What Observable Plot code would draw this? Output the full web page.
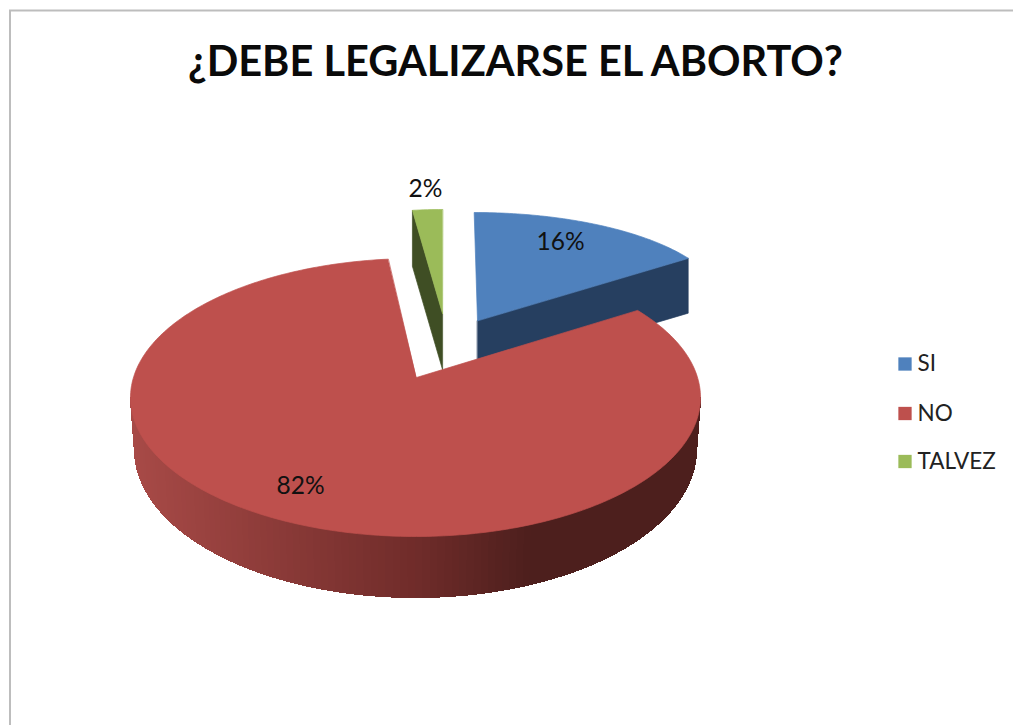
<!DOCTYPE html>
<html>
<head>
<meta charset="utf-8">
<script src="https://cdn.jsdelivr.net/npm/d3@7"></script>
<script src="https://cdn.jsdelivr.net/npm/@observablehq/plot@0.6"></script>
<style>
html,body{margin:0;padding:0;background:#fff;overflow:hidden}
svg{display:block}
</style>
</head>
<body>
<div id="chart"></div>
<script>
// Data
const titleText = "¿DEBE LEGALIZARSE EL ABORTO?";
const categories = ["SI", "NO", "TALVEZ"];
const shares = [16, 82, 2];
const topColors = ["#4f81bd", "#be504d", "#9bbb59"];
const edgeColors = ["#263f60", null, "#3f4e24"];

// Layout of the exploded 3D pie, in the SVG's pixel space
const W = 1013, H = 725;
const geometry = {
  SI:     {ax: 477, ay: 320, cx: 474, cy: 307, rx: 250, ry: 95, rayRy: 113, turn: -0.8, depth: 55, label: [560, 242]},
  NO:     {ax: 416, ay: 377, cx: 415, cy: 397, rx: 285, ry: 139, rayRy: 139, turn: 0.5, depth: 52, label: [300, 486],
           bottom: {cx: 415, cy: 449, rx: 281, ry: 148}},
  TALVEZ: {ax: 442, ay: 313, cx: 442, cy: 313, rx: 240, ry: 104, rayRy: 104, turn: 0, depth: 56, label: [425, 189]}
};
const legendLayout = {x: 904.5, textX: 917, y: [363.5, 413, 461]};

// Angular span of each slice, clockwise from twelve o'clock
const total = d3.sum(shares);
let running = 0;
const slices = categories.map((name, i) => {
  const start = running / total * 2 * Math.PI;
  running += shares[i];
  return {name, value: shares[i], start, end: running / total * 2 * Math.PI,
          top: topColors[i], edge: edgeColors[i], g: geometry[name]};
});

// Where a ray leaving the (perspective-shifted) apex at angle t meets the rim
function rim(g, angle) {
  const t = angle + g.turn * Math.PI / 180;
  const dx = g.rx * Math.sin(t), dy = -g.rayRy * Math.cos(t);
  const ox = (g.ax - g.cx) / g.rx, oy = (g.ay - g.cy) / g.ry;
  const ux = dx / g.rx, uy = dy / g.ry;
  const a = ux * ux + uy * uy, b = 2 * (ox * ux + oy * uy), c = ox * ox + oy * oy - 1;
  const k = (-b + Math.sqrt(b * b - 4 * a * c)) / (2 * a);
  return [g.ax + k * dx, g.ay + k * dy];
}

const faces = [], wallBands = [], bigTop = [];
let shapeId = 0;
function addShape(target, points, fill) {
  const z = shapeId++;
  for (const [x, y] of points) target.push({x, y, z, fill});
}
const topPolygon = s => {
  const steps = Math.max(6, Math.ceil((s.end - s.start) * 60));
  const arc = d3.range(steps + 1).map(i => rim(s.g, s.start + (s.end - s.start) * i / steps));
  return [[s.g.ax, s.g.ay], ...arc];
};

// Red rim colour runs from mid red on the left to near black on the right
const redSide = d3.scaleLinear().domain([130, 415, 530, 700])
  .range(["#a84a47", "#702c2a", "#4d1f1d", "#4d1f1d"]).clamp(true);

const [si, no, talvez] = slices;

// Radial faces of the two small slices (back to front)
for (const [s, t] of [[talvez, talvez.start], [si, si.end]]) {
  const g = s.g, [ex, ey] = rim(g, t);
  addShape(faces, [[g.ax, g.ay], [ex, ey], [ex, ey + g.depth], [g.ax, g.ay + g.depth]], s.edge);
}
addShape(faces, topPolygon(talvez), talvez.top);
addShape(faces, topPolygon(si), si.top);

// Front wall of the big slice, one thin band per step
const wall = no.g, base = wall.bottom;
const rad = d => d * Math.PI / 180;
for (let d = 270; d > 90; d -= 1.5) {
  const t0 = rad(d), t1 = rad(d - 1.5);
  const p = (e, t) => [e.cx + e.rx * Math.sin(t), e.cy - e.ry * Math.cos(t)];
  const a = p(wall, t0), b = p(wall, t1), c = p(base, t1), e = p(base, t0);
  addShape(wallBands, [a, b, c, e], redSide((a[0] + b[0]) / 2));
}
addShape(bigTop, topPolygon(no), no.top);

const legendRows = categories.map((name, i) => ({
  name, color: topColors[i], x: legendLayout.x, textX: legendLayout.textX, y: legendLayout.y[i]
}));
const labelRows = slices.map(s => ({text: s.value + "%", x: s.g.label[0], y: s.g.label[1]}));
const font = "Lato, 'Open Sans', sans-serif";
const polygon = {x: "x", y: "y", z: "z", fill: "fill", stroke: "fill", curve: "linear-closed"};

const chart = Plot.plot({
  width: W, height: H,
  margin: 0,
  style: {background: "#fff", fontFamily: font},
  x: {domain: [0, W], range: [0, W], axis: null},
  y: {domain: [0, H], range: [0, H], axis: null},
  color: {type: "identity"},
  marks: [
    Plot.ruleX([9.5], {y1: 10, y2: H, stroke: "#bdbdbd", strokeWidth: 2}),
    Plot.ruleY([10], {x1: 9, x2: W, stroke: "#bdbdbd", strokeWidth: 2}),
    Plot.line(faces, {...polygon, strokeWidth: 0.7}),
    Plot.line(wallBands, {...polygon, strokeWidth: 1.2, shapeRendering: "crispEdges"}),
    Plot.line(bigTop, {...polygon, strokeWidth: 0.7}),
    Plot.text(labelRows, {x: "x", y: "y", text: "text", fontSize: 24.5, fill: "#111", fontFamily: font}),
    Plot.text([titleText], {x: () => 515, y: () => 62, text: d => d, fontSize: 41.5, fontWeight: 700, fill: "#0a0a0a", fontFamily: font}),
    Plot.dot(legendRows, {x: "x", y: "y", fill: "color", symbol: "square", r: 7.5}),
    Plot.text(legendRows, {x: "textX", y: "y", text: "name", textAnchor: "start", fontSize: 22.5, fill: "#222", fontFamily: font})
  ]
});
document.getElementById("chart").appendChild(chart);
</script>
</body>
</html>
